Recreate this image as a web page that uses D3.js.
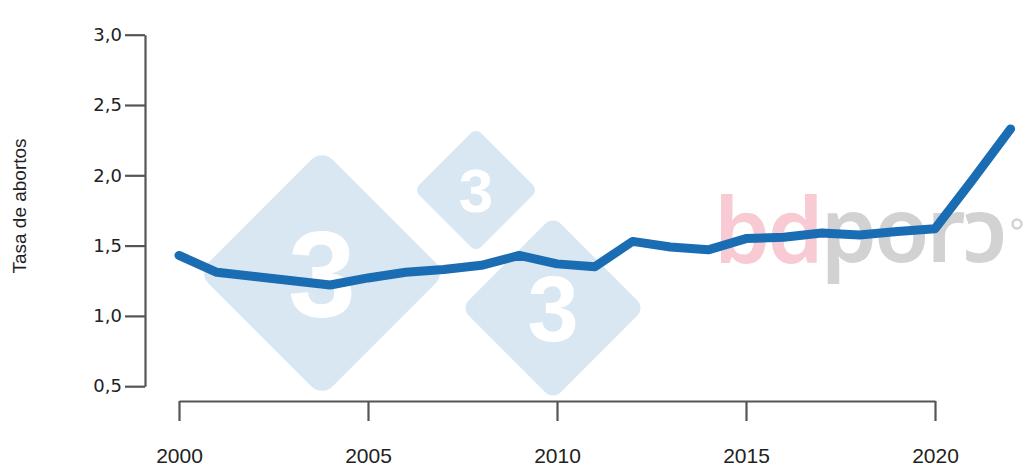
<!DOCTYPE html>
<html>
<head>
<meta charset="utf-8">
<script src="https://cdn.jsdelivr.net/npm/d3@7"></script>
<style>
  html, body { margin: 0; padding: 0; background: #ffffff; }
  svg { display: block; }
</style>
</head>
<body>
<svg id="chart" width="1027" height="468"></svg>
<script>
const years = [2000, 2001, 2002, 2003, 2004, 2005, 2006, 2007, 2008, 2009, 2010, 2011,
               2012, 2013, 2014, 2015, 2016, 2017, 2018, 2019, 2020, 2021, 2022];
const abortionRate = [1.43, 1.31, 1.28, 1.25, 1.22, 1.27, 1.31, 1.33, 1.36, 1.43, 1.37, 1.35,
                      1.53, 1.49, 1.47, 1.55, 1.56, 1.59, 1.575, 1.60, 1.62, 1.97, 2.33];
const yTicks = [0.5, 1.0, 1.5, 2.0, 2.5, 3.0];
const xTicks = [2000, 2005, 2010, 2015, 2020];
const yTitle = "Tasa de abortos";

const svg = d3.select("#chart");

const x = d3.scaleLinear().domain([2000, 2020]).range([179, 935]);
const y = d3.scaleLinear().domain([0.5, 3.0]).range([386.2, 34.7]);

// Watermark (background decoration)
const wm = svg.append("g").attr("class", "watermark");
const diamonds = [
  {cx: 322, cy: 273, r: 124, fs: 122},
  {cx: 476, cy: 190, r: 62, fs: 62},
  {cx: 553, cy: 308, r: 92, fs: 92}
];
diamonds.forEach(d => {
  const s = d.r * Math.SQRT1_2 * 2;
  wm.append("rect")
    .attr("x", -s / 2).attr("y", -s / 2)
    .attr("width", s).attr("height", s)
    .attr("rx", d.r * 0.12)
    .attr("transform", `translate(${d.cx},${d.cy}) rotate(45)`)
    .attr("fill", "#d9e7f3");
  wm.append("text")
    .attr("x", d.cx).attr("y", d.cy + d.fs * 0.36)
    .attr("text-anchor", "middle")
    .attr("font-family", "Liberation Sans, Arial, sans-serif")
    .attr("font-weight", "bold")
    .attr("font-size", d.fs)
    .attr("fill", "#ffffff")
    .text("3");
});
const logo = wm.append("text")
  .attr("x", 714).attr("y", 262)
  .attr("font-family", "'Noto Sans', 'DejaVu Sans', sans-serif")
  .attr("font-weight", 600)
  .attr("font-size", 90)
  .attr("letter-spacing", -3);
logo.append("tspan").attr("fill", "#f8cad3").text("bd");
logo.append("tspan").attr("fill", "#d2d2d2").text("porɔ");
wm.append("circle").attr("cx", 1017).attr("cy", 224).attr("r", 4.5)
  .attr("fill", "none").attr("stroke", "#d2d2d2").attr("stroke-width", 2.5);

// Axes
const axisColor = "#555555";
const yAxis = svg.append("g")
  .attr("transform", "translate(145,0)")
  .call(d3.axisLeft(y).tickValues(yTicks).tickSizeInner(20).tickSizeOuter(0).tickPadding(3)
        .tickFormat(d => d.toFixed(1).replace(".", ",")));
yAxis.selectAll("path, line").attr("stroke", axisColor).attr("stroke-width", 2.2);
yAxis.selectAll("text")
  .attr("font-family", "DejaVu Sans, sans-serif")
  .attr("font-size", 18)
  .attr("fill", "#222");

const xAxis = svg.append("g")
  .attr("transform", "translate(0,401)")
  .call(d3.axisBottom(x).tickValues(xTicks).tickSizeInner(20).tickSizeOuter(0).tickPadding(27)
        .tickFormat(d3.format("d")));
xAxis.selectAll("path, line").attr("stroke", axisColor).attr("stroke-width", 2.2);
xAxis.selectAll("text")
  .attr("font-family", "Liberation Sans, Arial, sans-serif")
  .attr("font-size", 21)
  .attr("fill", "#222");

// Y title
svg.append("text")
  .attr("transform", "translate(26,206) rotate(-90)")
  .attr("text-anchor", "middle")
  .attr("font-family", "Liberation Sans, Arial, sans-serif")
  .attr("font-size", 19)
  .attr("fill", "#222")
  .text(yTitle);

// Line
const data = years.map((yr, i) => ({yr, v: abortionRate[i]}));
svg.append("path")
  .datum(data)
  .attr("fill", "none")
  .attr("stroke", "#1a6db2")
  .attr("stroke-width", 9)
  .attr("stroke-linejoin", "round")
  .attr("stroke-linecap", "round")
  .attr("d", d3.line().x(d => x(d.yr)).y(d => y(d.v)));
</script>
</body>
</html>
